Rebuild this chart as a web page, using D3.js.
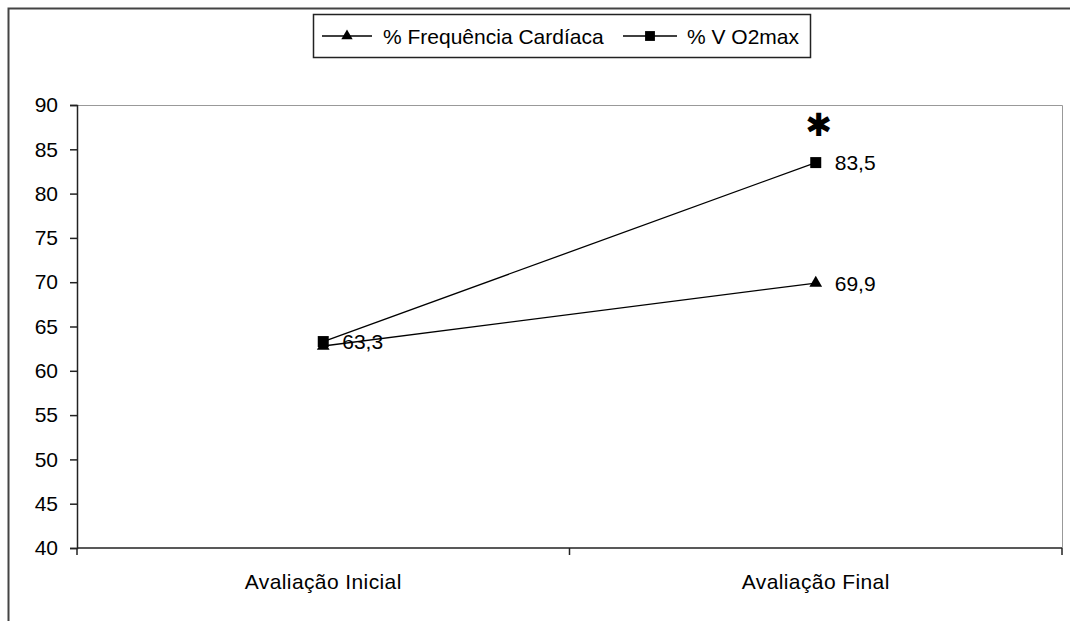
<!DOCTYPE html>
<html>
<head>
<meta charset="utf-8">
<style>
  body { margin: 0; background: #fff; }
  text { font-family: "Liberation Sans", Arial, sans-serif; fill: #000; }
</style>
</head>
<body>
<svg width="1070" height="621"></svg>
<script src="https://d3js.org/d3.v7.min.js"></script>
<script>

var categories = ["Avaliação Inicial", "Avaliação Final"];
var freqCardiaca = [62.8, 69.9];
var vo2max = [63.3, 83.5];
var seriesNames = ["% Frequência Cardíaca", "% V O2max"];
var yTicks = [40, 45, 50, 55, 60, 65, 70, 75, 80, 85, 90];
var pointLabels = [
  {series: 1, index: 0, text: "63,3"},
  {series: 1, index: 1, text: "83,5"},
  {series: 0, index: 1, text: "69,9"}
];

var svg = d3.select("svg"),
    margin = {top: 105, right: 8, bottom: 73, left: 77},
    width = +svg.attr("width") - margin.left - margin.right,
    height = +svg.attr("height") - margin.top - margin.bottom;

// outer chart border (runs off the picture to the right and bottom)
svg.append("rect")
    .attr("x", 8.5).attr("y", 8.5)
    .attr("width", 1100).attr("height", 700)
    .attr("fill", "none")
    .attr("stroke", "#444")
    .attr("stroke-width", 2);

var g = svg.append("g").attr("transform", "translate(" + margin.left + "," + margin.top + ")");

var x = d3.scaleBand().domain(categories).range([0, width]);
var y = d3.scaleLinear().domain([40, 90]).range([height, 0]);

// plot area frame top/right (gray)
g.append("path")
    .attr("d", "M0,0.5H" + (width + 0.5) + "V" + height)
    .attr("fill", "none")
    .attr("stroke", "#999")
    .attr("stroke-width", 1);

// y axis
var yAxis = g.append("g")
    .call(d3.axisLeft(y).tickValues(yTicks).tickSize(7).tickPadding(12));
yAxis.selectAll("text").style("font-size", "21px");
yAxis.selectAll("path, line").attr("stroke", "#222").attr("stroke-width", 1.5);

// x axis with ticks between categories
var xAxis = g.append("g")
    .attr("transform", "translate(0," + height + ")");
xAxis.append("line")
    .attr("x1", 0).attr("x2", width)
    .attr("stroke", "#222").attr("stroke-width", 1.5);
xAxis.selectAll(".tk")
    .data([0, x.step(), width])
    .enter().append("line")
    .attr("x1", function(d) { return d; }).attr("x2", function(d) { return d; })
    .attr("y1", 0).attr("y2", 7)
    .attr("stroke", "#222").attr("stroke-width", 1.5);
xAxis.selectAll(".lbl")
    .data(categories)
    .enter().append("text")
    .attr("x", function(d) { return x(d) + x.bandwidth() / 2; })
    .attr("y", 41)
    .attr("text-anchor", "middle")
    .style("font-size", "21px")
    .style("letter-spacing", "0.4px")
    .text(function(d) { return d; });

var cx = function(i) { return x(categories[i]) + x.bandwidth() / 2; };

var line = d3.line()
    .x(function(d, i) { return cx(i); })
    .y(function(d) { return y(d); });

var series = [freqCardiaca, vo2max];
var symbols = [d3.symbolTriangle, d3.symbolSquare];
var symSize = [70, 121];

series.forEach(function(s, k) {
  g.append("path")
      .datum(s)
      .attr("fill", "none")
      .attr("stroke", "#000")
      .attr("stroke-width", 1.3)
      .attr("d", line);
});

series.forEach(function(s, k) {
  g.selectAll(".m" + k)
      .data(s)
      .enter().append("path")
      .attr("transform", function(d, i) { return "translate(" + cx(i) + "," + y(d) + ")"; })
      .attr("d", d3.symbol().type(symbols[k]).size(symSize[k]))
      .attr("fill", "#000");
});

g.selectAll(".plabel")
    .data(pointLabels)
    .enter().append("text")
    .attr("x", function(d) { return cx(d.index) + 19; })
    .attr("y", function(d) { return y(series[d.series][d.index]); })
    .attr("dy", "0.36em")
    .style("font-size", "21px")
    .text(function(d) { return d.text; });

// significance mark
g.append("text")
    .attr("x", cx(1) + 3)
    .attr("y", y(vo2max[1]) - 27)
    .attr("text-anchor", "middle")
    .style("font-size", "32px")
    .style("font-family", "DejaVu Sans, sans-serif")
    .text("\u2731");

// legend
var legend = svg.append("g").attr("transform", "translate(313,14)");
legend.append("rect")
    .attr("x", 0.5).attr("y", 0.5)
    .attr("width", 497).attr("height", 43)
    .attr("fill", "#fff")
    .attr("stroke", "#222")
    .attr("stroke-width", 1.5);

var legItems = [{x: 9, w: 50, tx: 70}, {x: 310, w: 54, tx: 374}];
legItems.forEach(function(it, k) {
  legend.append("line")
      .attr("x1", it.x).attr("x2", it.x + it.w)
      .attr("y1", 22).attr("y2", 22)
      .attr("stroke", "#000").attr("stroke-width", 1.3);
  legend.append("path")
      .attr("transform", "translate(" + (it.x + it.w / 2) + ",22)")
      .attr("d", d3.symbol().type(symbols[k]).size(symSize[k] * 0.8))
      .attr("fill", "#000");
  legend.append("text")
      .attr("x", it.tx).attr("y", 22)
      .attr("dy", "0.36em")
      .style("font-size", "21px")
      .text(seriesNames[k]);
});

</script>
</body>
</html>
